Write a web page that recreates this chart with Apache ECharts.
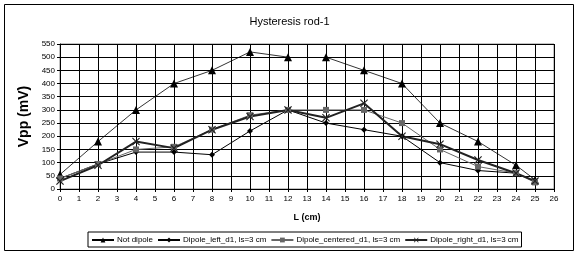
<!DOCTYPE html>
<html><head><meta charset="utf-8">
<script src="https://cdn.jsdelivr.net/npm/echarts@6/dist/echarts.min.js"></script>
<style>html,body{margin:0;padding:0;background:#fff}#c{width:579px;height:256px}</style>
</head><body><div id="c"></div>
<script>
var seriesNames = ["Not dipole", "Dipole_left_d1, ls=3 cm", "Dipole_centered_d1, ls=3 cm", "Dipole_right_d1, ls=3 cm"];
var xNot = [0, 2, 4, 6, 8, 10, 12, 13, 14, 16, 18, 20, 22, 24, 25];
var yNot = [55, 180, 300, 400, 450, 520, 500, null, 500, 450, 400, 250, 180, 90, 35];
var xPos = [0, 2, 4, 6, 8, 10, 12, 14, 16, 18, 20, 22, 24, 25];
var yLeft = [40, 95, 140, 140, 130, 220, 300, 250, 225, 200, 100, 70, 60, 30];
var yCentered = [40, 95, 150, 160, 225, 280, 300, 300, 300, 250, 150, 85, 60, 25];
var yRight = [30, 90, 180, 155, 225, 275, 300, 270, 325, 200, 170, 110, 60, 30];

function pairs(xs, ys) { return xs.map(function (x, i) { return [x, ys[i] === null ? '-' : ys[i]]; }); }
var xSym = 'path://M0,1L1,0L5,4L9,0L10,1L6,5L10,9L9,10L5,6L1,10L0,9L4,5Z';
var chart = echarts.init(document.getElementById('c'));
var font = 'Arial, "Liberation Sans", sans-serif';
chart.setOption({
  animation: false,
  backgroundColor: '#fff',
  title: { text: 'Hysteresis rod-1', left: 'center', top: 11, textStyle: { fontFamily: font, fontSize: 11, fontWeight: 'normal', color: '#000' } },
  graphic: [{ type: 'rect', shape: { x: 4.5, y: 4.5, width: 569, height: 246 }, style: { fill: 'none', stroke: '#000', lineWidth: 1 } }],
  grid: { left: 60, right: 25, top: 44, bottom: 67, show: true, borderColor: '#888', borderWidth: 1 },
  legend: {
    bottom: 9, left: 88, itemGap: 4, itemWidth: 22, itemHeight: 6, padding: [4, 3, 3, 3],
    borderColor: '#000', borderWidth: 1,
    textStyle: { fontFamily: font, fontSize: 8, color: '#000', padding: [0, 0, 0, -2] },
    data: seriesNames
  },
  xAxis: {
    type: 'value', min: 0, max: 26, interval: 1,
    name: 'L (cm)', nameLocation: 'middle', nameGap: 24,
    nameTextStyle: { fontFamily: font, fontSize: 9, fontWeight: 'bold', color: '#000' },
    axisLine: { lineStyle: { color: '#000' } }, axisTick: { show: true, length: 3, lineStyle: { color: '#000' } },
    axisLabel: { fontFamily: font, fontSize: 8, color: '#000', margin: 6 },
    splitLine: { show: true, lineStyle: { color: '#000', width: 1 } }
  },
  yAxis: {
    type: 'value', min: 0, max: 550, interval: 50,
    name: 'Vpp (mV)', nameLocation: 'middle', nameGap: 23,
    nameTextStyle: { fontFamily: font, fontSize: 14, fontWeight: 'bold', color: '#000' },
    axisLine: { show: true, lineStyle: { color: '#000' } }, axisTick: { show: true, length: 3, lineStyle: { color: '#000' } },
    axisLabel: { fontFamily: font, fontSize: 8, color: '#000', margin: 5 },
    splitLine: { show: true, lineStyle: { color: '#000', width: 1 } }
  },
  series: [
    { name: seriesNames[0], type: 'line', data: pairs(xNot, yNot), connectNulls: false, symbol: 'triangle', symbolSize: 8,
      lineStyle: { color: '#000', width: 0.8 }, itemStyle: { color: '#000' } },
    { name: seriesNames[1], type: 'line', data: pairs(xPos, yLeft), symbol: 'diamond', symbolSize: 6,
      lineStyle: { color: '#000', width: 1 }, itemStyle: { color: '#000' } },
    { name: seriesNames[2], type: 'line', data: pairs(xPos, yCentered), symbol: 'rect', symbolSize: 6,
      lineStyle: { color: '#666', width: 1 }, itemStyle: { color: '#666' } },
    { name: seriesNames[3], type: 'line', data: pairs(xPos, yRight), symbol: xSym, symbolSize: 8,
      lineStyle: { color: '#222', width: 2 }, itemStyle: { color: '#222' } }
  ]
});
</script></body></html>
